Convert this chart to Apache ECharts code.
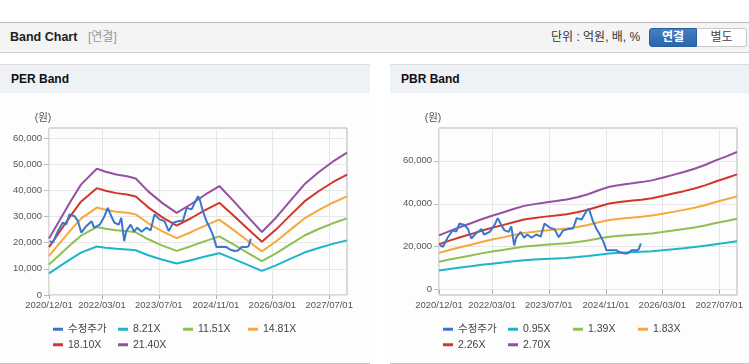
<!DOCTYPE html>
<html>
<head>
<meta charset="utf-8">
<script src="https://cdn.jsdelivr.net/npm/echarts@6/dist/echarts.min.js"></script>
<style>
  body { margin: 0; width: 749px; height: 364px; background: #fff; position: relative; overflow: hidden;
         font-family: 'Liberation Sans', 'Noto Sans CJK KR', sans-serif; }
  .hd { position: absolute; left: 0; top: 22px; width: 749px; height: 31px; box-sizing: border-box;
        background: #f4f4f4; border-top: 1px solid #bdbdbd; border-bottom: 1px solid #cfcfcf; }
  .hd span { position: absolute; top: 0; line-height: 29px; white-space: nowrap; }
  .hd .ttl { left: 10px; font-size: 12.5px; font-weight: bold; color: #222; }
  .hd .sub { left: 88px; font-size: 12px; color: #999; }
  .hd .unit { left: 551px; font-size: 12px; color: #333; }
  .hd .btn { top: 5px; height: 19px; line-height: 17px; box-sizing: border-box; text-align: center; font-size: 12px; }
  .hd .on { left: 649px; width: 48px; color: #fff; font-weight: bold; border: 1px solid #2a5f9e;
            border-radius: 3px 0 0 3px; background: linear-gradient(#4380c6, #2b65aa); }
  .hd .off { left: 697px; width: 50px; color: #444; border: 1px solid #c8c8c8; border-left: none;
             border-radius: 0 3px 3px 0; background: #fff; }
  .panel { position: absolute; top: 64px; height: 300px; box-sizing: border-box; background: #fdfdfd;
           border-top: 1px solid #dcdcdc; border-bottom: 1px solid #c8c8c8; }
  .ptl { height: 28px; line-height: 28px; background: #eef1f6; padding-left: 11px; font-size: 12px;
         font-weight: bold; color: #111; }
  .chart { position: absolute; top: 93px; height: 270px; }
</style>
</head>
<body>
<div class="hd">
  <span class="ttl">Band Chart</span><span class="sub">[연결]</span>
  <span class="unit">단위 : 억원, 배, %</span>
  <span class="btn on">연결</span><span class="btn off">별도</span>
</div>
<div class="panel" style="left:0;width:370px"><div class="ptl">PER Band</div></div>
<div class="panel" style="left:390px;width:359px"><div class="ptl">PBR Band</div></div>
<div id="per" class="chart" style="left:0;width:370px"></div>
<div id="pbr" class="chart" style="left:390px;width:359px"></div>
<script>
// 수정주가 (same in both charts)
var priceDates = ['2020/12/07','2021/01/04','2021/02/15','2021/03/28','2021/04/28','2021/05/25','2021/07/07','2021/08/07','2021/09/04','2021/10/16',
  '2021/12/01','2021/12/22','2022/02/10','2022/03/22','2022/04/19','2022/05/19','2022/06/16','2022/07/22','2022/08/13','2022/09/07',
  '2022/09/25','2022/11/01','2022/12/01','2022/12/28','2023/02/03','2023/03/16','2023/04/22','2023/05/25','2023/07/07','2023/08/19',
  '2023/09/24','2023/11/01','2023/12/13','2024/01/25','2024/02/25','2024/04/07','2024/05/04','2024/06/01','2024/06/16','2024/07/13',
  '2024/08/13','2024/09/10','2024/10/10','2024/11/07','2024/12/19','2025/02/01','2025/03/01','2025/04/13','2025/05/10','2025/06/10',
  '2025/07/22','2025/08/10','2025/08/28'];
var priceValues = [20600,20000,24400,27600,27000,30800,30100,28200,23800,26300,
  28200,25700,26900,30100,33300,30100,27600,26900,29500,20600,
  24400,26900,24200,25700,24200,25700,24700,30800,28900,28200,
  24400,27600,28200,28500,33300,32700,35200,37700,36500,32000,
  28200,25700,22500,18300,18400,18300,17400,16800,17000,18300,
  18300,18700,21500];

// PER band
var perNames = ['수정주가','8.21X','11.51X','14.81X','18.10X','21.40X'];
var perDates = ['2020/12/01','2021/03/01','2021/06/01','2021/09/01','2022/01/15','2022/04/01','2022/07/01','2022/10/01',
  '2022/12/15','2023/04/01','2023/08/01','2023/12/01','2024/04/01','2024/08/01','2024/12/01','2025/04/01',
  '2025/08/01','2025/12/01','2026/04/01','2026/08/01','2026/12/01','2027/04/01','2027/08/01','2027/12/01'];
var per821  = [8290,10920,13630,16170,18510,18060,17650,17410,17080,15190,13460,12030,13300,14700,15970,13790,11490,9240,11330,13790,16210,17980,19540,20870];
var per1151 = [11630,15310,19110,22670,25960,25320,24750,24400,23940,21290,18880,16860,18650,20600,22390,19340,16110,12950,15880,19340,22730,25210,27390,29260];
var per1481 = [14960,19700,24580,29180,33400,32580,31840,31400,30800,27400,24290,21700,23990,26510,28810,24880,20730,16660,20440,24880,29250,32430,35250,37650];
var per1810 = [18280,24070,30050,35660,40820,39820,38920,38370,37650,33490,29680,26520,29320,32400,35200,30410,25340,20360,24980,30410,35750,39640,43080,46010];
var per2140 = [21610,28460,35520,42160,48260,47080,46010,45370,44510,39590,35100,31350,34670,38310,41620,35950,29960,24080,29530,35950,42270,46870,50930,54400];
var perYTicks = [0,10000,20000,30000,40000,50000,60000];

// PBR band
var pbrNames = ['수정주가','0.95X','1.39X','1.83X','2.26X','2.70X'];
var pbrDates = ['2020/12/01','2021/03/01','2021/06/01','2021/09/01','2021/12/01','2022/03/01','2022/06/01','2022/09/01',
  '2022/12/01','2023/03/01','2023/06/01','2023/09/01','2023/12/01','2024/03/01','2024/06/01','2024/09/01',
  '2024/12/01','2025/03/01','2025/06/01','2025/09/01','2025/12/01','2026/03/01','2026/06/01','2026/09/01',
  '2026/12/01','2027/03/01','2027/06/01','2027/09/01','2027/12/01'];
var pbr095 = [8880,9600,10260,10880,11540,12110,12640,13210,13730,14010,14300,14540,14770,15150,15630,16290,16860,17150,17390,17620,17910,18340,18810,19290,19810,20430,21190,21850,22560];
var pbr139 = [13000,14040,15010,15920,16890,17720,18490,19320,20090,20500,20920,21270,21610,22170,22870,23840,24670,25090,25440,25780,26200,26830,27520,28220,28980,29890,31000,31970,33010];
var pbr183 = [17110,18480,19760,20950,22230,23330,24340,25440,26440,26990,27540,28000,28460,29190,30100,31380,32480,33030,33490,33950,34500,35320,36230,37150,38160,39350,40810,42090,43460];
var pbr226 = [21130,22830,24410,25880,27460,28820,30060,31410,32660,33340,34010,34580,35140,36050,37180,38760,40120,40790,41360,41920,42600,43620,44750,45880,47120,48590,50400,51980,53680];
var pbr270 = [25250,27270,29160,30920,32810,34430,35910,37530,39020,39830,40640,41310,41990,43070,44420,46310,47930,48740,49410,50090,50900,52110,53460,54810,56300,58050,60210,62100,64130];
var pbrYTicks = [0,20000,40000,60000];

var xTickDates = ['2020/12/01','2022/03/01','2023/07/01','2024/11/01','2026/03/01','2027/07/01'];
var xStart = '2020/12/01', xEnd = '2027/12/01';
var colors = ['#3b77c8','#1db5c9','#8fbf4f','#f6a83c','#d2362b','#93519f'];
var font = "'Liberation Sans', 'Noto Sans CJK KR', sans-serif";

function toTime(s) {
  var p = s.split('/');
  return new Date(+p[0], +p[1] - 1, +p[2]).getTime();
}
function pad(n) { return n < 10 ? '0' + n : '' + n; }
function fmtDate(v) {
  var d = new Date(v);
  return d.getFullYear() + '/' + pad(d.getMonth() + 1) + '/' + pad(d.getDate());
}
function zip(dates, vals) {
  return dates.map(function (d, i) { return [toTime(d), vals[i]]; });
}

function buildChart(id, names, bandDates, bands, yMin, yMax, yTicks) {
  var myChart = echarts.init(document.getElementById(id));
  var series = [];
  bands.forEach(function (b, i) {
    series.push({
      name: names[i + 1], type: 'line', data: zip(bandDates, b),
      showSymbol: false, symbol: 'none', color: colors[i + 1],
      lineStyle: {width: 2}, z: 2
    });
  });
  // price line sits on top of the bands but stays first in the legend
  series.unshift({
    name: names[0], type: 'line', data: zip(priceDates, priceValues),
    showSymbol: false, symbol: 'none', color: colors[0],
    lineStyle: {width: 2}, z: 3
  });
  var xTicks = xTickDates.map(toTime);
  var option = {
    animation: false,
    textStyle: {fontFamily: font},
    grid: {
      left: 49, top: 35, width: 298, height: 167,
      show: true, borderColor: '#b4b4b4', borderWidth: 1, backgroundColor: 'transparent'
    },
    legend: {
      left: 53, top: 231, width: 260, padding: 0,
      icon: 'rect', itemWidth: 10, itemHeight: 3, itemGap: 5,
      textStyle: {color: '#444', fontSize: 10.5, width: 45, lineHeight: 10, fontFamily: font},
      data: names
    },
    // dates as timestamps on a value axis so the custom tick dates can be used
    xAxis: {
      type: 'value', min: toTime(xStart), max: toTime(xEnd),
      axisLine: {show: false},
      axisTick: {show: true, length: 4, customValues: xTicks, lineStyle: {color: '#aaa'}},
      axisLabel: {color: '#555', fontSize: 9.5, margin: 6, customValues: xTicks, formatter: fmtDate},
      splitLine: {show: true, lineStyle: {color: '#e6e6e6'}}
    },
    yAxis: {
      type: 'value', min: yMin, max: yMax,
      name: '(원)', nameLocation: 'end', nameGap: 5,
      nameTextStyle: {color: '#555', fontSize: 10.5, align: 'center', padding: [0, 12, 0, 0]},
      axisLine: {show: false},
      axisTick: {show: true, length: 5, customValues: yTicks, lineStyle: {color: '#bbb'}},
      axisLabel: {
        color: '#555', fontSize: 9.5, margin: 7, customValues: yTicks,
        formatter: function (v) { return v.toLocaleString('en-US'); }
      },
      splitLine: {show: true, lineStyle: {color: '#e6e6e6'}}
    },
    series: series
  };
  myChart.setOption(option);
}

buildChart('per', perNames, perDates, [per821, per1151, per1481, per1810, per2140], 0, 63800, perYTicks);
buildChart('pbr', pbrNames, pbrDates, [pbr095, pbr139, pbr183, pbr226, pbr270], -2500, 75300, pbrYTicks);
</script>
</body>
</html>
